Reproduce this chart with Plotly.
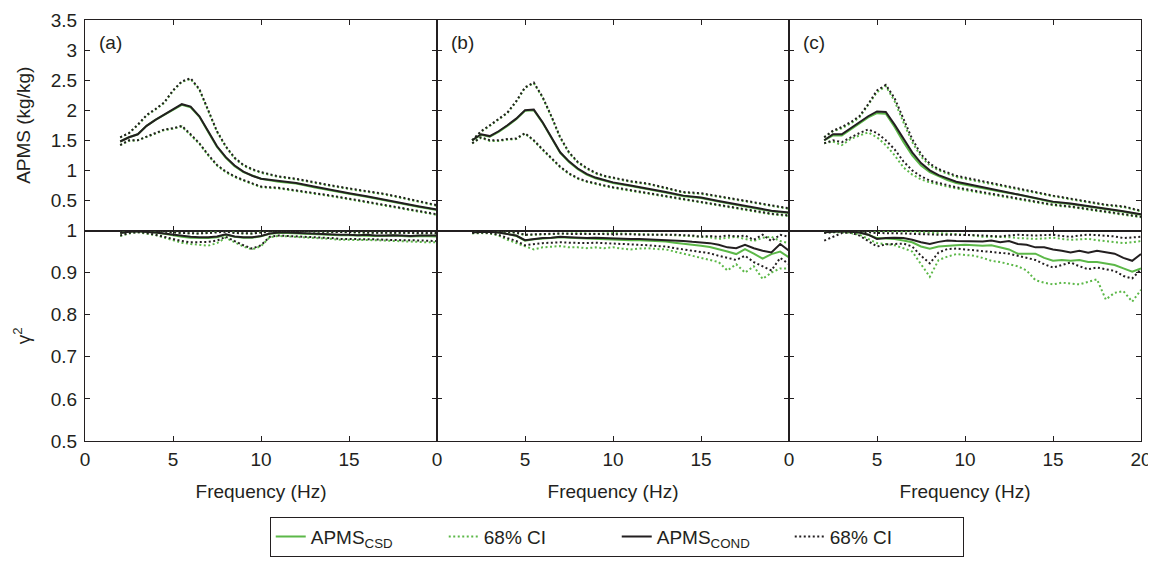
import plotly.graph_objects as go
from plotly.subplots import make_subplots

# ---------------- data ----------------
freq = [2, 2.5, 3, 3.5, 4, 4.5, 5, 5.5, 6, 6.5, 7, 7.5, 8, 8.5, 9, 9.5, 10,
        11, 12, 13, 14, 15, 16, 17, 18, 19, 20]

a_cond    = [1.48,1.55,1.60,1.74,1.84,1.93,2.01,2.10,2.06,1.90,1.65,1.40,1.22,1.08,0.98,0.91,0.86,0.82,0.79,0.73,0.67,0.62,0.57,0.51,0.45,0.40,0.35]
a_cond_hi = [1.55,1.62,1.76,1.92,2.02,2.13,2.33,2.48,2.53,2.35,2.00,1.65,1.40,1.21,1.09,1.02,0.97,0.90,0.86,0.80,0.75,0.70,0.66,0.61,0.55,0.48,0.42]
a_cond_lo = [1.42,1.50,1.50,1.56,1.62,1.68,1.70,1.74,1.60,1.45,1.26,1.09,0.98,0.90,0.84,0.78,0.73,0.71,0.67,0.62,0.58,0.53,0.48,0.42,0.37,0.32,0.27]
a_csd     = [1.48,1.55,1.60,1.74,1.84,1.92,2.00,2.09,2.05,1.89,1.64,1.39,1.21,1.07,0.97,0.91,0.86,0.81,0.78,0.72,0.66,0.61,0.56,0.50,0.44,0.39,0.34]
a_csd_hi  = [1.55,1.62,1.75,1.91,2.01,2.12,2.32,2.47,2.52,2.34,1.99,1.64,1.39,1.20,1.08,1.01,0.96,0.89,0.85,0.79,0.74,0.69,0.65,0.60,0.54,0.47,0.41]
a_csd_lo  = [1.42,1.49,1.50,1.55,1.61,1.67,1.69,1.73,1.59,1.44,1.25,1.08,0.97,0.89,0.83,0.77,0.72,0.70,0.66,0.61,0.57,0.52,0.47,0.41,0.36,0.31,0.26]

b_cond    = [1.50,1.60,1.57,1.65,1.75,1.86,2.00,2.01,1.80,1.55,1.30,1.15,1.03,0.94,0.88,0.84,0.80,0.75,0.70,0.64,0.58,0.55,0.49,0.44,0.38,0.33,0.30]
b_cond_hi = [1.50,1.65,1.75,1.85,1.96,2.15,2.38,2.46,2.22,1.90,1.55,1.30,1.14,1.04,0.96,0.91,0.88,0.82,0.78,0.71,0.64,0.62,0.57,0.52,0.47,0.42,0.37]
b_cond_lo = [1.45,1.55,1.50,1.50,1.52,1.53,1.62,1.50,1.35,1.20,1.06,0.95,0.87,0.82,0.78,0.75,0.72,0.67,0.62,0.57,0.52,0.47,0.43,0.38,0.33,0.28,0.25]
b_csd     = [1.50,1.59,1.56,1.64,1.74,1.85,1.99,2.00,1.79,1.54,1.29,1.14,1.02,0.93,0.87,0.83,0.79,0.74,0.69,0.63,0.57,0.54,0.48,0.43,0.37,0.32,0.29]
b_csd_hi  = [1.50,1.64,1.74,1.84,1.95,2.14,2.37,2.45,2.21,1.89,1.54,1.29,1.13,1.03,0.95,0.90,0.87,0.81,0.77,0.70,0.63,0.61,0.56,0.51,0.46,0.41,0.36]
b_csd_lo  = [1.45,1.54,1.49,1.49,1.51,1.52,1.61,1.49,1.34,1.19,1.05,0.94,0.86,0.81,0.77,0.74,0.71,0.66,0.61,0.56,0.51,0.46,0.42,0.37,0.32,0.27,0.24]

c_cond    = [1.50,1.60,1.60,1.70,1.80,1.90,1.98,1.97,1.76,1.52,1.30,1.12,1.00,0.92,0.86,0.81,0.78,0.72,0.66,0.61,0.55,0.48,0.45,0.41,0.36,0.32,0.27]
c_cond_hi = [1.55,1.66,1.72,1.80,1.90,2.10,2.33,2.42,2.20,1.85,1.52,1.27,1.11,1.02,0.96,0.91,0.88,0.82,0.76,0.69,0.63,0.58,0.53,0.48,0.43,0.40,0.33]
c_cond_lo = [1.45,1.50,1.47,1.55,1.62,1.68,1.62,1.50,1.35,1.15,1.00,0.90,0.83,0.79,0.75,0.72,0.69,0.64,0.58,0.53,0.48,0.43,0.40,0.36,0.31,0.28,0.23]
c_csd     = [1.50,1.58,1.58,1.68,1.78,1.88,1.95,1.94,1.72,1.47,1.25,1.08,0.97,0.90,0.84,0.79,0.76,0.70,0.65,0.60,0.54,0.47,0.44,0.40,0.35,0.31,0.26]
c_csd_hi  = [1.55,1.65,1.70,1.78,1.88,2.08,2.30,2.40,2.15,1.80,1.47,1.23,1.08,1.00,0.94,0.89,0.86,0.80,0.75,0.68,0.62,0.57,0.52,0.47,0.42,0.39,0.32]
c_csd_lo  = [1.45,1.48,1.42,1.52,1.58,1.63,1.55,1.42,1.25,1.05,0.93,0.85,0.80,0.76,0.73,0.70,0.67,0.62,0.57,0.52,0.47,0.42,0.39,0.35,0.30,0.27,0.22]

freq2 = [2, 2.5, 3, 3.5, 4, 4.5, 5, 5.5, 6, 6.5, 7, 7.5, 8, 8.5, 9, 9.5, 10,
         10.5, 11, 11.5, 12, 12.5, 13, 13.5, 14, 14.5, 15, 15.5, 16, 16.5,
         17, 17.5, 18, 18.5, 19, 19.5, 20]

a_g_cond    = [0.994,0.997,0.998,0.997,0.995,0.993,0.990,0.987,0.985,0.984,0.984,0.986,0.991,0.986,0.984,0.984,0.987,0.993,0.995,0.995,0.994,0.993,0.993,0.992,0.991,0.990,0.990,0.989,0.990,0.988,0.988,0.989,0.988,0.987,0.988,0.988,0.988]
a_g_csd     = [0.994,0.997,0.998,0.997,0.995,0.992,0.988,0.985,0.983,0.982,0.982,0.984,0.990,0.985,0.983,0.983,0.986,0.992,0.994,0.994,0.993,0.992,0.992,0.991,0.990,0.989,0.989,0.988,0.988,0.987,0.987,0.988,0.987,0.986,0.987,0.986,0.986]
a_g_cond_lo = [0.988,0.994,0.996,0.994,0.990,0.985,0.980,0.975,0.972,0.972,0.973,0.976,0.985,0.975,0.965,0.957,0.965,0.985,0.988,0.987,0.986,0.985,0.985,0.984,0.982,0.980,0.980,0.980,0.979,0.979,0.978,0.977,0.977,0.977,0.976,0.975,0.975]
a_g_csd_lo  = [0.987,0.993,0.996,0.993,0.989,0.983,0.977,0.971,0.968,0.966,0.964,0.970,0.983,0.972,0.962,0.955,0.963,0.984,0.987,0.986,0.985,0.984,0.983,0.982,0.980,0.978,0.978,0.978,0.977,0.977,0.976,0.975,0.975,0.974,0.973,0.972,0.972]
a_g_cond_hi = [0.998,0.999,1.000,1.000,0.999,0.998,0.996,0.994,0.993,0.993,0.994,0.995,0.997,0.994,0.993,0.993,0.995,0.998,0.999,0.999,0.998,0.998,0.998,0.997,0.997,0.996,0.996,0.996,0.995,0.995,0.995,0.995,0.995,0.995,0.994,0.994,0.994]
a_g_csd_hi  = [0.998,0.999,1.000,1.000,0.999,0.998,0.996,0.994,0.993,0.993,0.995,0.997,0.999,0.995,0.993,0.993,0.996,0.999,0.999,0.999,0.998,0.998,0.997,0.997,0.996,0.996,0.996,0.995,0.995,0.995,0.994,0.994,0.994,0.994,0.993,0.993,0.993]

b_g_cond    = [0.996,0.997,0.997,0.995,0.992,0.988,0.977,0.980,0.982,0.983,0.985,0.984,0.983,0.982,0.983,0.982,0.982,0.981,0.980,0.980,0.979,0.978,0.978,0.976,0.975,0.973,0.972,0.970,0.966,0.960,0.958,0.966,0.958,0.952,0.948,0.968,0.952]
b_g_csd     = [0.996,0.997,0.997,0.995,0.992,0.987,0.976,0.979,0.981,0.982,0.984,0.983,0.982,0.981,0.981,0.980,0.979,0.978,0.977,0.977,0.976,0.975,0.974,0.971,0.969,0.966,0.964,0.961,0.956,0.950,0.944,0.956,0.945,0.933,0.944,0.950,0.936]
b_g_cond_lo = [0.994,0.995,0.994,0.990,0.982,0.975,0.965,0.968,0.970,0.971,0.972,0.971,0.970,0.970,0.971,0.970,0.970,0.968,0.967,0.967,0.965,0.963,0.962,0.958,0.955,0.952,0.950,0.946,0.940,0.935,0.930,0.940,0.925,0.915,0.905,0.935,0.920]
b_g_csd_lo  = [0.993,0.994,0.993,0.988,0.978,0.970,0.962,0.955,0.960,0.962,0.963,0.960,0.960,0.958,0.960,0.958,0.960,0.957,0.955,0.957,0.958,0.956,0.955,0.950,0.945,0.940,0.935,0.930,0.925,0.905,0.920,0.900,0.915,0.885,0.900,0.910,0.910]
b_g_cond_hi = [0.999,0.999,0.999,0.998,0.997,0.995,0.990,0.991,0.992,0.992,0.993,0.992,0.992,0.991,0.992,0.991,0.992,0.991,0.991,0.990,0.990,0.990,0.991,0.990,0.989,0.988,0.985,0.987,0.985,0.988,0.986,0.988,0.978,0.990,0.975,0.990,0.985]
b_g_csd_hi  = [0.999,0.999,0.999,0.998,0.997,0.994,0.989,0.990,0.991,0.992,0.993,0.993,0.994,0.993,0.992,0.993,0.994,0.993,0.992,0.991,0.991,0.990,0.990,0.989,0.988,0.986,0.985,0.984,0.980,0.982,0.985,0.980,0.975,0.983,0.985,0.975,0.970]

c_g_cond    = [0.996,0.997,0.998,0.997,0.995,0.990,0.980,0.982,0.983,0.982,0.978,0.972,0.968,0.973,0.976,0.975,0.975,0.974,0.974,0.976,0.972,0.975,0.968,0.966,0.960,0.960,0.955,0.952,0.948,0.952,0.947,0.952,0.948,0.945,0.935,0.928,0.944]
c_g_csd     = [0.997,0.998,0.998,0.997,0.995,0.990,0.982,0.981,0.980,0.976,0.972,0.962,0.957,0.962,0.964,0.965,0.966,0.965,0.964,0.965,0.960,0.955,0.945,0.945,0.945,0.935,0.928,0.930,0.928,0.930,0.925,0.925,0.922,0.918,0.910,0.902,0.910]
c_g_cond_lo = [0.976,0.985,0.994,0.995,0.988,0.975,0.962,0.967,0.968,0.969,0.962,0.940,0.922,0.948,0.956,0.957,0.955,0.953,0.952,0.950,0.948,0.945,0.940,0.935,0.930,0.920,0.912,0.918,0.924,0.915,0.908,0.912,0.908,0.904,0.892,0.886,0.908]
c_g_csd_lo  = [0.995,0.996,0.996,0.994,0.990,0.980,0.970,0.968,0.965,0.958,0.950,0.920,0.890,0.930,0.938,0.944,0.942,0.940,0.935,0.928,0.925,0.920,0.915,0.905,0.882,0.876,0.872,0.876,0.874,0.872,0.878,0.884,0.836,0.852,0.856,0.831,0.859]
c_g_cond_hi = [0.994,0.997,0.999,0.999,0.998,0.996,0.994,0.994,0.993,0.993,0.992,0.991,0.990,0.990,0.990,0.990,0.990,0.989,0.988,0.987,0.986,0.988,0.990,0.989,0.988,0.989,0.990,0.987,0.985,0.988,0.990,0.989,0.988,0.986,0.982,0.984,0.985]
c_g_csd_hi  = [0.999,0.999,0.999,0.999,0.999,0.999,0.999,0.999,0.999,0.998,0.998,0.996,0.995,0.994,0.993,0.992,0.990,0.988,0.985,0.985,0.985,0.984,0.982,0.981,0.980,0.981,0.983,0.980,0.978,0.979,0.980,0.977,0.975,0.972,0.970,0.972,0.975]

panel_labels = ["(a)", "(b)", "(c)"]
x_ticks_ab = [0, 5, 10, 15]
x_ticks_c = [0, 5, 10, 15, 20]
y_ticks_top = [0.5, 1, 1.5, 2, 2.5, 3, 3.5]
y_ticks_bot = [0.5, 0.6, 0.7, 0.8, 0.9, 1]

# ---------------- figure ----------------
GREEN = "#5cb848"
BLACK = "#231f20"
FONT = "Liberation Sans, Arial, sans-serif"
FS = 19
DOT = "2px,2.5px"

fig = make_subplots(rows=2, cols=3, horizontal_spacing=0, vertical_spacing=0)

top = [
    (a_csd, a_csd_hi, a_csd_lo, a_cond, a_cond_hi, a_cond_lo),
    (b_csd, b_csd_hi, b_csd_lo, b_cond, b_cond_hi, b_cond_lo),
    (c_csd, c_csd_hi, c_csd_lo, c_cond, c_cond_hi, c_cond_lo),
]
bot = [
    (a_g_csd, a_g_csd_hi, a_g_csd_lo, a_g_cond, a_g_cond_hi, a_g_cond_lo),
    (b_g_csd, b_g_csd_hi, b_g_csd_lo, b_g_cond, b_g_cond_hi, b_g_cond_lo),
    (c_g_csd, c_g_csd_hi, c_g_csd_lo, c_g_cond, c_g_cond_hi, c_g_cond_lo),
]

first = True


def add_set(xs, series, row, col):
    global first
    csd, csd_hi, csd_lo, cond, cond_hi, cond_lo = series
    specs = [
        (csd_hi, GREEN, DOT, "68% CI", "gci", 2),
        (csd_lo, GREEN, DOT, "68% CI", "gci", 2),
        (csd, GREEN, "solid", "APMS<sub>CSD</sub>", "gs", 1),
        (cond_hi, BLACK, DOT, "68% CI", "kci", 4),
        (cond_lo, BLACK, DOT, "68% CI", "kci", 4),
        (cond, BLACK, "solid", "APMS<sub>COND</sub>", "ks", 3),
    ]
    shown = set()
    for ys, color, dash, name, grp, rank in specs:
        show = first and grp not in shown
        shown.add(grp)
        fig.add_trace(go.Scatter(
            x=xs, y=ys, mode="lines", name=name, legendgroup=grp,
            showlegend=show, legendrank=rank,
            line=dict(color=color, width=2, dash=dash),
            hoverinfo="skip"), row=row, col=col)
    first = False


for i in range(3):
    add_set(freq, top[i], 1, i + 1)
for i in range(3):
    add_set(freq2, bot[i], 2, i + 1)

axis_common = dict(showline=True, linecolor=BLACK, linewidth=1, mirror="ticks",
                   ticks="inside", ticklen=5, tickwidth=1, tickcolor=BLACK,
                   showgrid=False, zeroline=False, automargin=False,
                   tickfont=dict(family=FONT, size=FS, color=BLACK))

for i in range(3):
    c = i + 1
    tv = x_ticks_c if i == 2 else x_ticks_ab
    fig.update_xaxes(range=[0, 20], tickvals=tv, showticklabels=False, row=1, col=c, **axis_common)
    fig.update_xaxes(range=[0, 20], tickvals=tv, showticklabels=True, row=2, col=c,
                     ticklabelstandoff=1,
                     title=dict(text="Frequency (Hz)", standoff=15,
                                font=dict(family=FONT, size=FS, color=BLACK)),
                     **axis_common)
    fig.update_yaxes(range=[0, 3.5], tickvals=y_ticks_top, showticklabels=(i == 0),
                     row=1, col=c, ticklabelstandoff=3, **axis_common)
    fig.update_yaxes(range=[0.5, 1.0], tickvals=y_ticks_bot, showticklabels=(i == 0),
                     row=2, col=c, ticklabelstandoff=3, **axis_common)

fig.update_yaxes(title=dict(text="APMS (kg/kg)", standoff=15,
                            font=dict(family=FONT, size=FS, color=BLACK)), row=1, col=1)
fig.update_yaxes(title=dict(text="γ<sup>2</sup>", standoff=15,
                            font=dict(family=FONT, size=FS, color=BLACK)), row=2, col=1)

xrefs = ["x domain", "x2 domain", "x3 domain"]
yrefs = ["y domain", "y2 domain", "y3 domain"]
for i in range(3):
    fig.add_annotation(text=panel_labels[i], xref=xrefs[i], yref=yrefs[i],
                       x=0.035, y=0.895, xanchor="left", yanchor="middle",
                       showarrow=False, font=dict(family=FONT, size=FS, color=BLACK))

fig.update_layout(
    width=1148, height=553,
    margin=dict(l=77, r=15, t=12, b=120),
    paper_bgcolor="white", plot_bgcolor="white",
    font=dict(family=FONT, size=FS, color=BLACK),
    showlegend=True,
    legend=dict(orientation="h", xref="container", yref="container",
                x=0.228, y=0.08, xanchor="left", yanchor="top",
                bordercolor=BLACK, borderwidth=1, bgcolor="white",
                font=dict(family=FONT, size=FS, color=BLACK),
                traceorder="normal", entrywidth=128, entrywidthmode="pixels"),
)

fig.write_html("out.html")
